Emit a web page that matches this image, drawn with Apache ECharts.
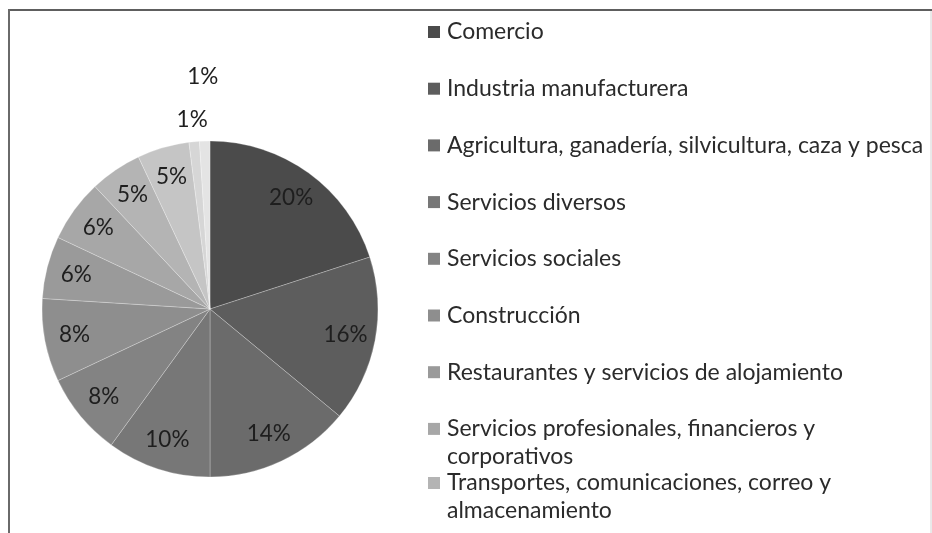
<!DOCTYPE html>
<html>
<head>
<meta charset="utf-8">
<script src="https://cdn.jsdelivr.net/npm/echarts@6/dist/echarts.min.js"></script>
<style>
  html, body { margin: 0; padding: 0; background: #fff; }
  #chart { width: 932px; height: 533px; }
</style>
</head>
<body>
<div id="chart"></div>
<script>
// sectores (orden de las porciones, en sentido horario desde las 12)
var sectores = [
    'Comercio',
    'Industria manufacturera',
    'Agricultura, ganadería, silvicultura, caza y pesca',
    'Servicios diversos',
    'Servicios sociales',
    'Construcción',
    'Restaurantes y servicios de alojamiento',
    'Servicios profesionales, financieros y corporativos',
    'Transportes, comunicaciones, correo y almacenamiento',
    'Gobierno y organismos internacionales',
    'Industria extractiva y de la electricidad',
    'No especificado'
];
var porcentajes = [20, 16, 14, 10, 8, 8, 6, 6, 5, 5, 1, 1];
var grises = ['#4b4b4b', '#5d5d5d', '#6b6b6b', '#777777', '#838383', '#8e8e8e',
              '#9a9a9a', '#a7a7a7', '#b4b4b4', '#c5c5c5', '#d6d6d6', '#e4e4e4'];

// nombres que se parten en dos renglones en la leyenda
var renglones = {
    'Servicios profesionales, financieros y corporativos': ['Servicios profesionales, financieros y', 'corporativos'],
    'Transportes, comunicaciones, correo y almacenamiento': ['Transportes, comunicaciones, correo y', 'almacenamiento']
};

var fuente = 'Lato';

var rich = { g: { width: 7 }, s: { width: 19 } };
grises.forEach(function (c, i) {
    rich['m' + i] = { width: 12, height: 12, backgroundColor: c };
});

function textoLeyenda(name) {
    var i = sectores.indexOf(name);
    var partes = renglones[name];
    if (partes) {
        return '{m' + i + '|}{g|}' + partes[0] + '\n{s|}' + partes[1];
    }
    return '{m' + i + '|}{g|}' + name;
}

function leyenda(nombres, top) {
    return {
        orient: 'vertical',
        left: 422,
        top: top,
        padding: 0,
        itemGap: 28.7,
        itemWidth: 0,
        itemHeight: 0,
        selectedMode: false,
        data: nombres,
        formatter: textoLeyenda,
        textStyle: {
            fontFamily: fuente,
            fontSize: 23,
            color: '#2b2b2b',
            lineHeight: 28,
            rich: rich
        }
    };
}

// anillo transparente que solo sirve para colocar etiquetas a cierto radio
function anillo(radio, visibles) {
    return {
        type: 'pie',
        center: [210, 309],
        radius: radio,
        startAngle: 90,
        silent: true,
        emphasis: { disabled: true },
        itemStyle: { color: 'rgba(0,0,0,0)' },
        labelLine: { show: false },
        label: {
            position: 'inside',
            fontFamily: fuente,
            fontSize: 22.5,
            color: '#1e1e1e',
            formatter: function (p) { return Math.round(p.percent) + '%'; }
        },
        data: sectores.map(function (n, i) {
            return { name: n, value: porcentajes[i], label: { show: visibles.indexOf(i) >= 0 } };
        })
    };
}

var option = {
    backgroundColor: '#fff',
    animation: false,
    legend: [
        leyenda(sectores.slice(0, 8), 18),
        leyenda(sectores.slice(8, 9), 469)
    ],
    graphic: [
        { type: 'line', shape: { x1: 8, y1: 10, x2: 932, y2: 10 }, style: { stroke: '#5e5e5e', lineWidth: 2 } },
        { type: 'line', shape: { x1: 9, y1: 9, x2: 9, y2: 533 }, style: { stroke: '#6a6a6a', lineWidth: 2 } },
        { type: 'line', shape: { x1: 931, y1: 11, x2: 931, y2: 533 }, style: { stroke: '#d4d4d4', lineWidth: 1 } }
    ],
    series: [
        {
            type: 'pie',
            center: [210, 309],
            radius: 168,
            startAngle: 90,
            silent: true,
            emphasis: { disabled: true },
            label: { show: false },
            labelLine: { show: false },
            itemStyle: { borderColor: 'rgba(255,255,255,0.25)', borderWidth: 1 },
            data: sectores.map(function (n, i) {
                return { name: n, value: porcentajes[i], itemStyle: { color: grises[i] } };
            })
        },
        anillo([102, 168], [0, 1, 2, 3, 4, 5, 6, 7, 8, 9]),
        anillo([166, 208], [10]),
        anillo([206, 252], [11])
    ]
};

var myChart = echarts.init(document.getElementById('chart'));
myChart.setOption(option);
</script>
</body>
</html>
